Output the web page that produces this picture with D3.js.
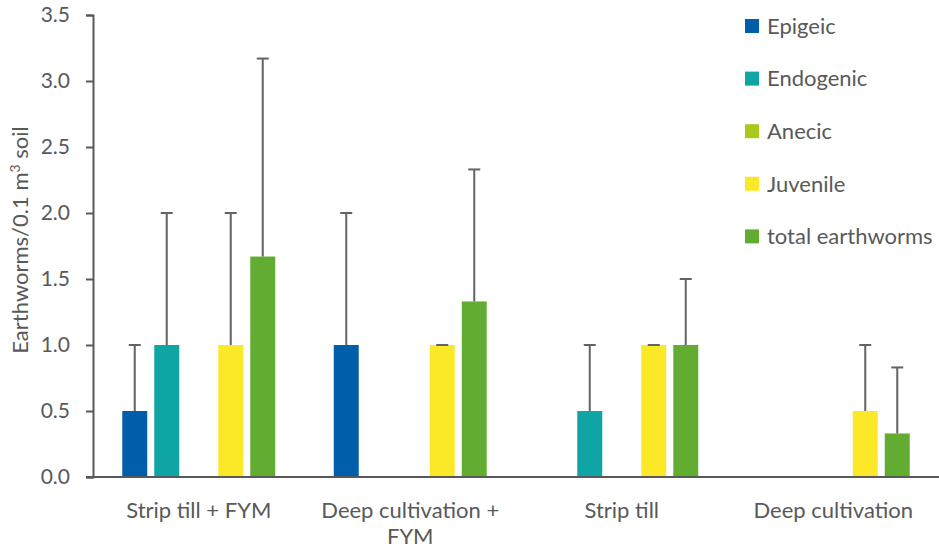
<!DOCTYPE html>
<html>
<head>
<meta charset="utf-8">
<script src="https://cdn.jsdelivr.net/npm/d3@7"></script>
<style>
  body { margin: 0; background: #fff; }
  text { font-family: Lato, "Open Sans", sans-serif; fill: #595959; }
</style>
</head>
<body>
<div id="chart"></div>
<script>
// data
var treatments = ["Strip till + FYM", "Deep cultivation + FYM", "Strip till", "Deep cultivation"];
var groups = ["Epigeic", "Endogenic", "Anecic", "Juvenile", "total earthworms"];
var colors = ["#005eaa", "#0fa5a5", "#a8c81c", "#fbe928", "#62ad31"];

// means per group, one value per treatment
var epigeic   = [0.5, 1.0, 0, 0];
var endogenic = [1.0, 0, 0.5, 0];
var anecic    = [0, 0, 0, 0];
var juvenile  = [1.0, 1.0, 1.0, 0.5];
var total     = [1.67, 1.33, 1.0, 0.33];

// upper error (sd) per group
var epigeicErr   = [0.5, 1.0, 0, 0];
var endogenicErr = [1.0, 0, 0.5, 0];
var anecicErr    = [0, 0, 0, 0];
var juvenileErr  = [1.0, 0, 0, 0.5];
var totalErr     = [1.5, 1.0, 0.5, 0.5];

var yTicks = [0, 0.5, 1.0, 1.5, 2.0, 2.5, 3.0, 3.5];

var means = [epigeic, endogenic, anecic, juvenile, total];
var errs = [epigeicErr, endogenicErr, anecicErr, juvenileErr, totalErr];

var svgWidth = 939;
var svgHeight = 551;

var margin = { top: 15, right: 0, bottom: 74, left: 93 };
var width = svgWidth - margin.left - margin.right;
var height = svgHeight - margin.top - margin.bottom;

var svg = d3.select("#chart")
  .append("svg")
  .attr("width", svgWidth)
  .attr("height", svgHeight);

var chartGroup = svg.append("g")
  .attr("transform", `translate(${margin.left}, ${margin.top})`);

// flat table for the bars
var rows = [];
treatments.forEach(function(t, i) {
  groups.forEach(function(g, j) {
    rows.push({ treatment: t, group: g, value: means[j][i], err: errs[j][i], color: colors[j] });
  });
});

var x0 = d3.scaleBand()
  .domain(treatments)
  .range([0, width]);

// 5 slots in the middle of each category band
var x1 = d3.scaleBand()
  .domain(groups)
  .range([0, 160])
  .paddingInner(0.22)
  .paddingOuter(0.11);

var yScale = d3.scaleLinear()
  .domain([0, 3.5])
  .range([height, 0]);

// y axis
var leftAxis = d3.axisLeft(yScale)
  .tickValues(yTicks)
  .tickFormat(d3.format(".1f"))
  .tickSize(7)
  .tickPadding(16);

var yAxis = chartGroup.append("g")
  .attr("class", "y-axis")
  .call(leftAxis);

yAxis.select(".domain").attr("stroke", "#595959").attr("stroke-width", 2);
yAxis.selectAll(".tick line").attr("stroke", "#595959").attr("stroke-width", 2);
yAxis.selectAll(".tick text")
  .attr("font-size", "21px")
  .attr("fill", "#595959")
  .style("font-family", "Lato, sans-serif");

// bars
var bars = chartGroup.selectAll("rect.bar")
  .data(rows.filter(d => d.value > 0))
  .enter()
  .append("rect")
  .attr("class", "bar")
  .attr("x", d => x0(d.treatment) + (x0.bandwidth() - 160) / 2 + x1(d.group))
  .attr("y", d => yScale(d.value))
  .attr("width", x1.bandwidth())
  .attr("height", d => height - yScale(d.value))
  .attr("fill", d => d.color);

// error bars (upper only)
var errRows = rows.filter(d => d.value > 0);
var cx = d => x0(d.treatment) + (x0.bandwidth() - 160) / 2 + x1(d.group) + x1.bandwidth() / 2;

chartGroup.selectAll("line.err")
  .data(errRows.filter(d => d.err > 0))
  .enter()
  .append("line")
  .attr("class", "err")
  .attr("x1", cx)
  .attr("x2", cx)
  .attr("y1", d => yScale(d.value))
  .attr("y2", d => yScale(d.value + d.err))
  .attr("stroke", "#636363")
  .attr("stroke-width", 2);

chartGroup.selectAll("line.cap")
  .data(errRows)
  .enter()
  .append("line")
  .attr("class", "cap")
  .attr("x1", d => cx(d) - 6)
  .attr("x2", d => cx(d) + 6)
  .attr("y1", d => yScale(d.value + d.err))
  .attr("y2", d => yScale(d.value + d.err))
  .attr("stroke", "#636363")
  .attr("stroke-width", 2);

// x axis baseline
chartGroup.append("line")
  .attr("x1", -7)
  .attr("x2", width)
  .attr("y1", height)
  .attr("y2", height)
  .attr("stroke", "#595959")
  .attr("stroke-width", 2);

// x labels, wrapped like the original
var xLabelLines = [["Strip till + FYM"], ["Deep cultivation +", "FYM"], ["Strip till"], ["Deep cultivation"]];

var xLabels = chartGroup.selectAll("text.xlabel")
  .data(treatments)
  .enter()
  .append("text")
  .attr("class", "xlabel")
  .attr("text-anchor", "middle")
  .attr("font-size", "22px")
  .attr("transform", d => `translate(${x0(d) + x0.bandwidth() / 2}, ${height + 41})`);

xLabels.each(function(d, i) {
  var t = d3.select(this);
  xLabelLines[i].forEach(function(line, k) {
    t.append("tspan").attr("x", 0).attr("dy", k === 0 ? 0 : 26).text(line);
  });
});

// y axis title
var yTitle = svg.append("text")
  .attr("text-anchor", "middle")
  .attr("font-size", "22px")
  .attr("transform", "translate(28, 240) rotate(-90)");
yTitle.append("tspan").text("Earthworms/0.1 m");
yTitle.append("tspan").attr("font-size", "14px").attr("dy", -8).text("3");
yTitle.append("tspan").attr("dy", 8).text(" soil");

// legend
var legend = svg.append("g")
  .attr("transform", "translate(745, 19)");

var legendItems = legend.selectAll("g")
  .data(groups)
  .enter()
  .append("g")
  .attr("transform", (d, i) => `translate(0, ${i * 52.6})`);

legendItems.append("rect")
  .attr("width", 14)
  .attr("height", 14)
  .attr("fill", (d, i) => colors[i]);

legendItems.append("text")
  .attr("x", 22)
  .attr("y", 7)
  .attr("dy", "0.35em")
  .attr("font-size", "22px")
  .text(d => d);
</script>
</body>
</html>
